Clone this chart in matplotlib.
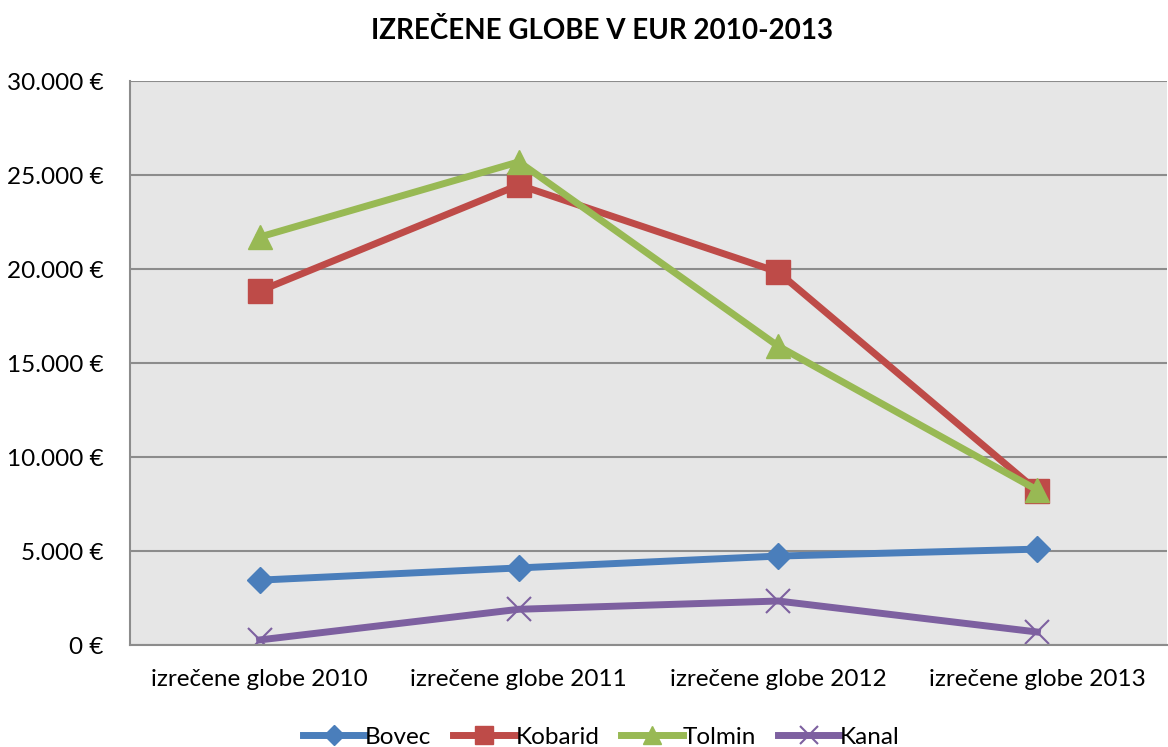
import matplotlib
matplotlib.use("Agg")
import matplotlib.pyplot as plt
from matplotlib.ticker import FuncFormatter

plt.rcParams['font.family'] = ['Lato', 'DejaVu Sans']

# data
categories = ['izrečene globe 2010', 'izrečene globe 2011',
              'izrečene globe 2012', 'izrečene globe 2013']
bovec = [3450, 4100, 4730, 5100]
kobarid = [18830, 24470, 19840, 8190]
tolmin = [21700, 25700, 15900, 8240]
kanal = [270, 1900, 2340, 690]

fig = plt.figure(figsize=(11.68, 7.47), dpi=100)
ax = fig.add_axes([130/1168, 102/747, 1037/1168, 564/747])
ax.set_facecolor('#e6e6e6')

x = range(len(categories))
ax.plot(x, bovec, color='#4a7ebb', lw=5, marker='D', ms=13, label='Bovec')
ax.plot(x, kobarid, color='#be4b48', lw=5, marker='s', ms=17, label='Kobarid')
ax.plot(x, tolmin, color='#98b954', lw=5, marker='^', ms=17, label='Tolmin')
ax.plot(x, kanal, color='#7d60a0', lw=5, marker='x', ms=17, mew=1.5, label='Kanal')

ax.set_xlim(-0.5, 3.5)
ax.set_ylim(0, 30000)
ax.set_yticks(range(0, 30001, 5000))
ax.yaxis.set_major_formatter(FuncFormatter(lambda v, p: f"{int(v):,} €".replace(',', '.')))
ax.set_xticks(list(x))
ax.set_xticklabels(categories)
ax.tick_params(axis='both', length=0, labelsize=17.5, pad=17)
ax.tick_params(axis='y', pad=19)
ax.grid(axis='y', color='#8c8c8c', lw=1.5)
ax.set_axisbelow(True)
for s in ['top', 'right']:
    ax.spines[s].set_visible(False)
ax.spines['left'].set_color('#8c8c8c')
ax.spines['left'].set_linewidth(1.5)
ax.spines['bottom'].set_color('#8c8c8c')
ax.spines['bottom'].set_linewidth(1.5)

fig.text(0.515, 0.958, 'IZREČENE GLOBE V EUR 2010-2013', ha='center', va='center',
         fontsize=20, fontweight='bold')

fig.legend(loc='lower center', bbox_to_anchor=(0.515, -0.03), ncol=4, frameon=False,
           fontsize=17.5, handlelength=2.55, handletextpad=0.0, columnspacing=0.9,
           markerscale=0.75)

fig.savefig('out.png', dpi=100)
